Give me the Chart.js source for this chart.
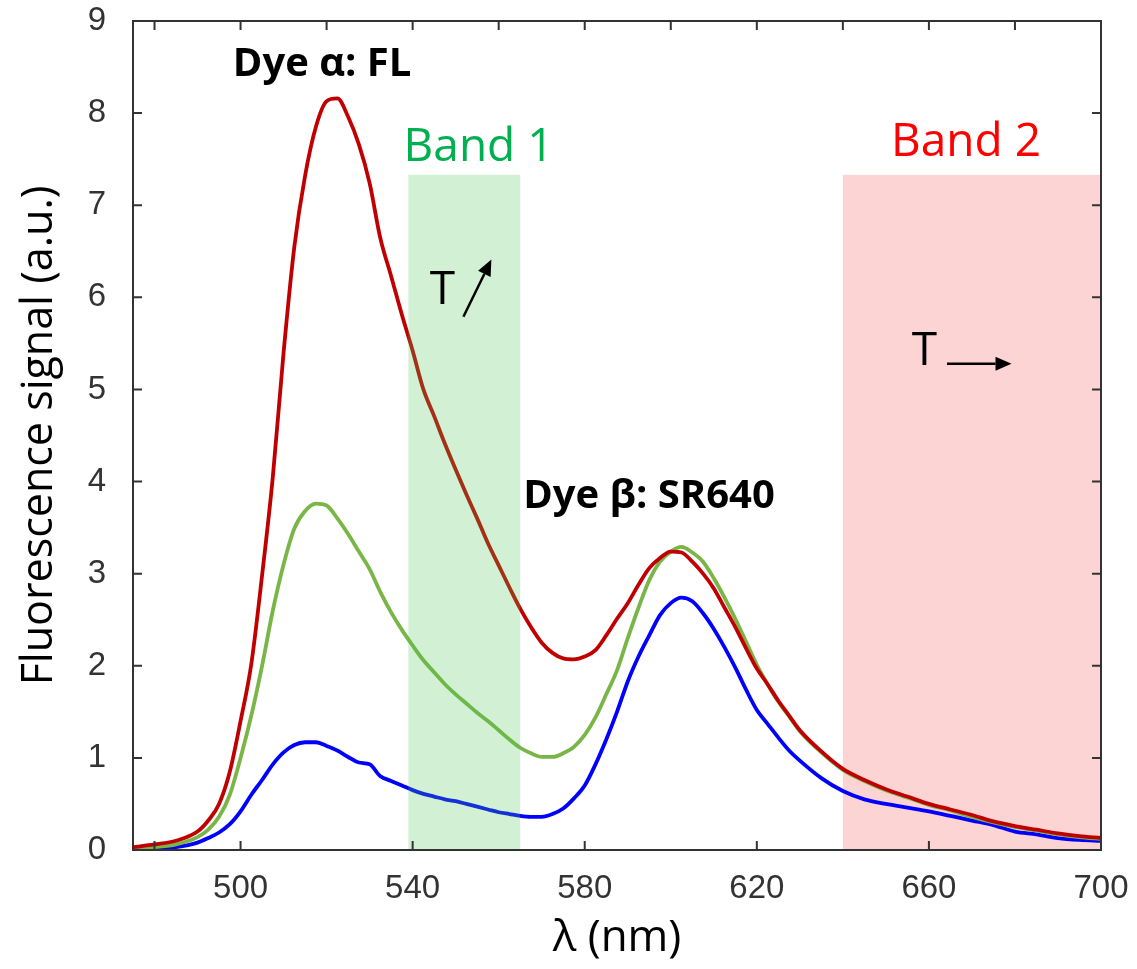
<!DOCTYPE html>
<html lang="en">
<head>
    <meta charset="UTF-8">
    <title>Fluorescence spectra</title>
    <script src="https://cdn.jsdelivr.net/npm/chart.js"></script>
    <style>
        body { margin: 0; background: #fff; }
    </style>
</head>
<body>
    <canvas id="chart" width="1137" height="969"></canvas>

    <script>
        // wavelengths (nm) shared by the three spectra
        const wavelength = [
            475, 480, 485, 490, 492.5, 495, 497.5, 500, 502.5, 505, 507.5,
            510, 512.5, 515, 517.5, 520, 522.5, 525, 527.5, 530, 532.5, 535, 537.5,
            540, 542.5, 545, 547.5, 550, 552.5, 555, 557.5, 560, 562.5, 565, 567.5,
            570, 572.5, 575, 577.5, 580, 582.5, 585, 587.5, 590, 592.5, 595, 597.5,
            600, 602.5, 605, 607.5, 610, 612.5, 615, 617.5, 620, 622.5, 625, 627.5,
            630, 635, 640, 645, 650, 655, 660, 665, 670, 675, 680, 685, 690, 695, 700
        ];
        const redSignal = [
            0.03, 0.06, 0.10, 0.20, 0.32, 0.50, 0.85, 1.40, 2.02, 2.98, 4.05,
            5.40, 6.55, 7.32, 7.85, 8.13, 8.16, 7.96, 7.66, 7.24, 6.64, 6.23, 5.81,
            5.42, 5.00, 4.71, 4.41, 4.13, 3.86, 3.60, 3.33, 3.09, 2.85, 2.62, 2.42,
            2.25, 2.14, 2.08, 2.07, 2.10, 2.17, 2.33, 2.51, 2.68, 2.88, 3.06, 3.17,
            3.24, 3.23, 3.13, 3.00, 2.84, 2.63, 2.42, 2.19, 1.97, 1.80, 1.62, 1.46,
            1.30, 1.07, 0.88, 0.76, 0.66, 0.58, 0.50, 0.44, 0.38, 0.31, 0.26, 0.22, 0.18, 0.15, 0.13
        ];
        const greenSignal = [
            0.01, 0.03, 0.06, 0.14, 0.22, 0.36, 0.60, 1.00, 1.46, 2.00, 2.60,
            3.10, 3.49, 3.68, 3.76, 3.74, 3.60, 3.43, 3.24, 3.05, 2.80, 2.58, 2.39,
            2.22, 2.06, 1.93, 1.80, 1.69, 1.59, 1.49, 1.40, 1.30, 1.20, 1.11, 1.05,
            1.01, 1.01, 1.05, 1.12, 1.25, 1.44, 1.69, 1.95, 2.30, 2.63, 2.93, 3.13,
            3.24, 3.29, 3.23, 3.13, 2.95, 2.74, 2.51, 2.26, 2.01, 1.80, 1.61, 1.45,
            1.29, 1.06, 0.87, 0.75, 0.65, 0.57, 0.49, 0.43, 0.36, 0.30, 0.25, 0.21, 0.17, 0.14, 0.12
        ];
        const blueSignal = [
            0.00, 0.01, 0.03, 0.08, 0.13, 0.19, 0.28, 0.42, 0.60, 0.76, 0.93,
            1.06, 1.14, 1.17, 1.17, 1.13, 1.08, 1.01, 0.95, 0.93, 0.80, 0.75, 0.70,
            0.65, 0.61, 0.58, 0.55, 0.53, 0.50, 0.47, 0.44, 0.41, 0.39, 0.37, 0.36,
            0.36, 0.39, 0.45, 0.56, 0.70, 0.93, 1.20, 1.50, 1.83, 2.10, 2.33, 2.55,
            2.68, 2.74, 2.70, 2.57, 2.40, 2.20, 1.98, 1.74, 1.52, 1.37, 1.22, 1.08,
            0.97, 0.78, 0.64, 0.55, 0.50, 0.46, 0.42, 0.37, 0.32, 0.27, 0.20, 0.17, 0.13, 0.11, 0.10
        ];

        const xTicks = [500, 540, 580, 620, 660, 700];   // labelled ticks
        const xMinorTicks = [480];                        // extra bottom tick
        const xTopTicks = [480, 500, 520, 540, 560, 580, 600, 620, 640, 660, 680, 700];
        const yTicks = [0, 1, 2, 3, 4, 5, 6, 7, 8, 9];

        const band1 = [539, 565];
        const band2 = [640, 700];
        const bandTop = 7.33;

        const toPoints = (vals) => wavelength.map((w, i) => ({x: w, y: vals[i]}));

        function arrow(ctx, x1, y1, x2, y2) {
            const ang = Math.atan2(y2 - y1, x2 - x1);
            const head = 16, half = 7;
            const bx = x2 - head * Math.cos(ang), by = y2 - head * Math.sin(ang);
            ctx.beginPath();
            ctx.moveTo(x1, y1);
            ctx.lineTo(bx, by);
            ctx.stroke();
            ctx.beginPath();
            ctx.moveTo(x2, y2);
            ctx.lineTo(bx + half * Math.sin(ang), by - half * Math.cos(ang));
            ctx.lineTo(bx - half * Math.sin(ang), by + half * Math.cos(ang));
            ctx.closePath();
            ctx.fill();
        }

        // bands, box frame with inward ticks, and the text notes
        const decor = {
            id: 'decor',
            beforeDatasetsDraw(chart) {
                const {ctx, scales: {x, y}} = chart;
                ctx.save();
                ctx.fillStyle = '#fcd4d4';
                const x0 = x.getPixelForValue(band2[0]), x1 = x.getPixelForValue(band2[1]);
                const yt = y.getPixelForValue(bandTop), yb = y.getPixelForValue(0);
                ctx.fillRect(x0, yt, x1 - x0, yb - yt);
                ctx.restore();
            },
            afterDatasetsDraw(chart) {
                const {ctx, chartArea: a, scales: {x, y}} = chart;
                ctx.save();
                // green band sits over the curves
                ctx.fillStyle = 'rgba(75, 195, 83, 0.25)';
                const x0 = x.getPixelForValue(band1[0]), x1 = x.getPixelForValue(band1[1]);
                const yt = y.getPixelForValue(bandTop), yb = y.getPixelForValue(0);
                ctx.fillRect(x0, yt, x1 - x0, yb - yt);

                // frame
                ctx.strokeStyle = '#333';
                ctx.lineWidth = 2;
                ctx.strokeRect(a.left, a.top, a.right - a.left, a.bottom - a.top);
                const tl = 9;
                ctx.beginPath();
                xTicks.concat(xMinorTicks).forEach(v => {
                    const px = x.getPixelForValue(v);
                    ctx.moveTo(px, a.bottom); ctx.lineTo(px, a.bottom - tl);
                });
                xTopTicks.forEach(v => {
                    const px = x.getPixelForValue(v);
                    ctx.moveTo(px, a.top); ctx.lineTo(px, a.top + tl);
                });
                yTicks.forEach(v => {
                    const py = y.getPixelForValue(v);
                    ctx.moveTo(a.left, py); ctx.lineTo(a.left + tl, py);
                    ctx.moveTo(a.right, py); ctx.lineTo(a.right - tl, py);
                });
                ctx.stroke();

                // notes
                const px = (v) => x.getPixelForValue(v);
                const py = (v) => y.getPixelForValue(v);
                ctx.textAlign = 'left';
                ctx.textBaseline = 'alphabetic';

                ctx.fillStyle = '#00b050';
                ctx.font = '46px "Open Sans"';
                ctx.fillText('Band 1', px(537.9), py(7.48));
                ctx.fillStyle = '#ff0000';
                ctx.fillText('Band 2', px(651.2), py(7.53));

                ctx.fillStyle = '#000';
                ctx.font = 'bold 40px "Open Sans"';
                ctx.fillText('Dye α: FL', px(498.2), py(8.40));
                ctx.fillText('Dye β: SR640', px(565.7), py(3.71));

                ctx.font = '46px "Open Sans"';
                ctx.fillText('T', px(544.0), py(5.93));
                ctx.fillText('T', px(656.0), py(5.26));

                ctx.strokeStyle = '#000';
                ctx.lineWidth = 2.5;
                arrow(ctx, px(551.8), py(5.79), px(558.3), py(6.41));
                arrow(ctx, px(664.2), py(5.28), px(679.2), py(5.28));
                ctx.restore();
            }
        };

        const ctx = document.getElementById('chart');
        const chart = new Chart(ctx, {
            type: 'line',
            data: {
                datasets: [
                    { label: 'red', data: toPoints(redSignal), borderColor: '#c00000' },
                    { label: 'green', data: toPoints(greenSignal), borderColor: '#7ab547' },
                    { label: 'blue', data: toPoints(blueSignal), borderColor: '#0000ff' }
                ]
            },
            options: {
                responsive: false,
                animation: false,
                devicePixelRatio: 1,
                layout: { padding: { top: 21, right: 36, bottom: 0, left: 0 } },
                elements: {
                    point: { radius: 0 },
                    line: { borderWidth: 3.8, cubicInterpolationMode: 'monotone' }
                },
                plugins: {
                    legend: { display: false },
                    tooltip: { enabled: false }
                },
                scales: {
                    x: {
                        type: 'linear',
                        min: 475,
                        max: 700,
                        afterBuildTicks: (scale) => { scale.ticks = xTicks.map(v => ({value: v})); },
                        afterFit: (scale) => {
                            scale.height = 119;
                            scale.paddingLeft = 0;
                            scale.paddingRight = 0;
                        },
                        grid: { display: false },
                        border: { display: false },
                        ticks: {
                            padding: 11,
                            color: '#333',
                            font: { family: '"Liberation Sans", Arial', size: 33 },
                            maxRotation: 0
                        },
                        title: {
                            display: true,
                            text: 'λ (nm)',
                            color: '#000',
                            font: { family: '"Open Sans"', size: 44 },
                            padding: { top: 0, bottom: 4 }
                        }
                    },
                    y: {
                        min: 0,
                        max: 9,
                        afterBuildTicks: (scale) => { scale.ticks = yTicks.map(v => ({value: v})); },
                        afterFit: (scale) => {
                            scale.width = 133;
                            scale.paddingTop = 0;
                            scale.paddingBottom = 0;
                        },
                        grid: { display: false },
                        border: { display: false },
                        ticks: {
                            padding: 19,
                            color: '#333',
                            font: { family: '"Liberation Sans", Arial', size: 33 }
                        },
                        title: {
                            display: true,
                            text: 'Fluorescence signal (a.u.)',
                            color: '#000',
                            font: { family: '"Open Sans"', size: 43 },
                            padding: { top: 14, bottom: 0 }
                        }
                    }
                }
            },
            plugins: [decor]
        });
    </script>
</body>
</html>
